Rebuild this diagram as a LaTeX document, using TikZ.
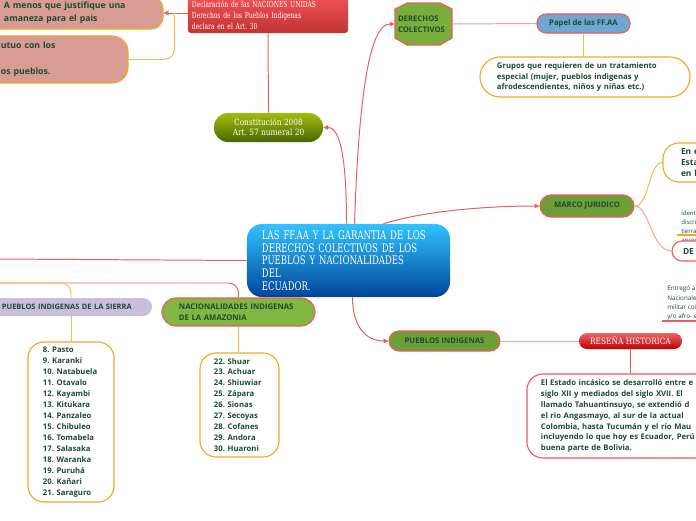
\documentclass[tikz,border=0pt]{standalone}
\usepackage{fontspec}
\setmainfont{Open Sans}
\newfontfamily\slab[FakeStretch=0.85]{DejaVu Serif}
\newfontfamily\slabc[FakeStretch=0.72]{DejaVu Serif}
\usetikzlibrary{positioning, arrows.meta, calc}
\definecolor{mmred}{HTML}{EE5A5F}
\definecolor{mmorange}{HTML}{F6A623}
\definecolor{mmtext}{HTML}{1E4A32}
\definecolor{mmgreen}{HTML}{6E9E38}
\definecolor{mmlime}{HTML}{82B541}
\definecolor{mmhex}{HTML}{7AAE3A}
\definecolor{mmblue}{HTML}{6FA7D3}
\definecolor{mmlav}{HTML}{C9BEDD}
\definecolor{mmpink}{HTML}{D99C95}
\frenchspacing

\begin{document}
\begin{tikzpicture}[x=0.025cm, y=-0.025cm,
    every node/.style={inner sep=0pt, text=mmtext, align=left,
                       font=\fontsize{5.5}{7.8}\selectfont\bfseries},
    pill/.style={draw=mmred, line width=0.8pt, fill=#1},
    card/.style={draw=mmorange, line width=0.8pt, fill=white, rounded corners=0.4cm},
    slabtext/.style={text=white, font=\slab\fontsize{6.2}{7.8}\selectfont},
    link/.style={draw=mmred, line width=0.7pt},
    faint/.style={draw=mmred!60, line width=0.7pt},
    twig/.style={draw=mmorange!80, line width=0.7pt},
    >={Triangle[length=3.5pt, width=3.2pt]},
  ]
  \useasboundingbox (0,0) rectangle (696,520);
  \clip (0,0) rectangle (696,520);

  % upper left branch
  \node[draw=mmorange, line width=0.8pt, fill=mmpink, rounded corners=0.3cm,
        minimum width=4.825cm, minimum height=0.8cm, text width=3.125cm,
        font=\fontsize{6.2}{9.2}\selectfont\bfseries] (menos) at (66.5,13)
    {\mbox{A menos que justifique una}\\\mbox{amaneza para el pais}};
  \node[draw=mmorange, line width=0.8pt, fill=mmpink, rounded corners=0.4cm,
        minimum width=3.95cm, minimum height=1.175cm, text width=2.4cm,
        font=\fontsize{6.2}{9.4}\selectfont\bfseries] (mutuo) at (49,59.5)
    {utuo con los\\\mbox{}\\os pueblos.};
  \node[slabtext, top color=mmred!90!red, bottom color=red!70!black!80, rounded corners=0.075cm,
        minimum width=4cm, minimum height=0.9cm, text width=3.8cm,
        font=\slabc\fontsize{5.9}{7.8}\selectfont] (declar) at (268,15)
    {\mbox{Declaración de las NACIONES UNIDAS}\\Derechos de los Pueblos Indigenas\\ declara en el Art. 30};
  \coordinate (dfork) at (176,13);

  \node[slabtext, top color=lime!45!olive!95, bottom color=olive!85!green!70!black,
        rounded corners=0.35cm, minimum width=2.725cm, minimum height=0.725cm,
        align=center, font=\slab\fontsize{6.2}{7.1}\selectfont] (const) at (268.5,127.5)
    {Constitución 2008\\Art. 57 numeral 20};

  % derechos colectivos
  \filldraw[fill=mmhex, draw=mmred, line width=0.8pt]
    (395,9) -- (407,3) -- (440,3) -- (452,9) -- (452,38) -- (440,45) -- (407,45) -- (395,38) -- cycle;
  \node[minimum width=1.425cm, minimum height=0.9cm, text width=1.275cm] (derechos) at (423.5,24)
    {DERECHOS\\COLECTIVOS};
  \node[pill=mmblue, rounded corners=0.225cm, minimum width=2.325cm, minimum height=0.475cm]
    (papel) at (583.5,23.5) {Papel de las FF.AA};
  \node[card, rounded corners=0.5cm, minimum width=5.25cm, minimum height=1cm, text width=4.4cm]
    (grupos) at (585,77)
    {Grupos que requieren de un tratamiento\\especial (mujer, pueblos indigenas y\\afrodescendientes, niños y niñas etc.)};

  % central topic
  \node[top color=cyan!70!blue!80, bottom color=blue!55!cyan!60!black, rounded corners=0.375cm,
        minimum width=5.075cm, minimum height=1.825cm, text width=4.325cm, text=white,
        font=\slabc\fontsize{8.4}{9}\selectfont] (central) at (348.5,260.5)
    {\mbox{LAS FF.AA Y LA GARANTIA DE LOS}\\\mbox{DERECHOS COLECTIVOS DE LOS}\\\mbox{PUEBLOS Y NACIONALIDADES}\\DEL\\ECUADOR.};

  % marco juridico
  \node[pill=mmgreen, rounded corners=0.275cm, minimum width=2.35cm, minimum height=0.55cm]
    (marco) at (587,206) {MARCO JURIDICO};
  \node[card, minimum width=2.425cm, minimum height=0.975cm, text width=1.525cm,
        font=\fontsize{6}{7.8}\selectfont\bfseries] (ene) at (711.5,162.5)
    {En e\\Esta\\en l};
  \node[anchor=west, font=\fontsize{4.3}{6.4}\selectfont] (identi) at (681,226.5)
    {identi\\discri\\tierra\\ances};
  \draw[mmorange, line width=0.8pt] (677,235) -- (700,235);
  \node[draw=mmred, line width=0.8pt, fill=white, rounded corners=0.25cm,
        minimum width=2.2cm, minimum height=0.5cm, text width=1.65cm,
        font=\fontsize{6}{7.8}\selectfont\bfseries] (de) at (716,251) {DE};
  \node[anchor=west, font=\fontsize{4.5}{6.6}\selectfont] (entrego) at (667,303)
    {Entregó a l\\Nacionales\\militar coi\\y/o afro- e};
  \draw[mmred, line width=0.8pt] (662,321) -- (700,321);

  % pueblos indigenas
  \node[pill=mmgreen, rounded corners=0.25cm, minimum width=2.775cm, minimum height=0.5cm]
    (pind) at (444.5,341) {PUEBLOS INDIGENAS};
  \node[slabtext, top color=mmred!95!white, bottom color=red!75!black, rounded corners=0.2cm,
        minimum width=2.575cm, minimum height=0.4cm, align=center] (resena) at (630.5,341)
    {RESEÑA HISTORICA};
  \node[draw=mmred, line width=0.8pt, fill=white, rounded corners=0.4cm,
        minimum width=6.325cm, minimum height=2.1cm, text width=5.625cm] (rtext) at (653.5,416)
    {El Estado incásico se desarrolló entre e\\siglo XII y mediados del siglo XVII. El\\llamado Tahuantinsuyo, se extendió d\\el rio Angasmayo, al sur de la actual\\Colombia, hasta Tucumán y el río Mau\\incluyendo lo que hoy es Ecuador, Perú\\buena parte de Bolivia.};

  % lower left branch
  \coordinate (lout) at (-5,259);
  \coordinate (lroot) at (-5,283);
  \node[fill=mmlav, rounded corners=0.225cm, minimum width=4.55cm, minimum height=0.45cm,
        text width=2.95cm, font=\fontsize{5.3}{7.8}\selectfont\bfseries] (sierra) at (61,307)
    {\mbox{PUEBLOS INDIGENAS DE LA SIERRA}};
  \node[pill=mmlime, rounded corners=0.35cm, minimum width=3.825cm, minimum height=0.7cm,
        text width=2.975cm] (amaz) at (238.5,312)
    {NACIONALIDADES INDIGENAS\\DE LA AMAZONIA};
  \node[card, minimum width=2.15cm, minimum height=4cm, text width=1.4cm] (slist) at (71,422)
    {8. Pasto\\9. Karanki\\10. Natabuela\\11. Otavalo\\12. Kayambi\\13. Kitukara\\14. Panzaleo\\15. Chibuleo\\16. Tomabela\\17. Salasaka\\18. Waranka\\19. Puruhá\\20. Kañari\\21. Saraguro};
  \node[card, minimum width=1.975cm, minimum height=2.6cm, text width=1.275cm] (alist) at (239.5,405)
    {22. Shuar\\23. Achuar\\24. Shiuwiar\\25. Zápara\\26. Sionas\\27. Secoyas\\28. Cofanes\\29. Andora\\30. Huaroni};

  % connectors
  \draw[link,->] (menos.east -| declar.west) -- (menos.east);
  \draw[twig] (mutuo.east) -- ++(32,0) .. controls +(12,0) and +(0,12) .. ++(14,-16)
    -- ++(0,-22) .. controls +(0,-8) and +(-4,0) .. (dfork);
  \draw[link] (declar.south) -- (const.north);
  \draw[link,->] ($(central.north)+(-2,0)$) .. controls +(0,-60) and +(18,0) .. (const.east);
  \draw[link,->] ($(central.north)+(6,0)$) .. controls +(5,-150) and +(-22,0) .. (derechos.west);
  \draw[faint] (derechos.east) -- (papel.west);
  \draw[twig] (papel.south) -- (papel.south |- grupos.north);
  \draw[link,->] ($(central.north)+(35,0)$) .. controls +(45,-14) and +(-45,0) .. (marco.west);
  \draw[twig] (marco.east) .. controls +(15,0) and +(-14,0) .. (ene.west);
  \draw[faint] (marco.east) .. controls +(15,0) and +(-20,0) .. (de.west);
  \draw[link,->] ($(central.south)+(4,0)$) .. controls +(0,30) and +(-22,0) .. (pind.west);
  \draw[faint] (pind.east) -- (resena.west);
  \draw[link] (resena.south) -- (resena.south |- rtext.north);
  \draw[link] (central.west) -- (lout);
  \draw[link, rounded corners=0.25cm] (lroot) -| (amaz.north);
  \draw[twig, rounded corners=0.25cm] (lroot) -| (sierra.north -| slist.north);
  \draw[twig] (slist.north |- sierra.south) -- (slist.north);
  \draw[twig] (amaz.south) -- (amaz.south |- alist.north);
\end{tikzpicture}
\end{document}
